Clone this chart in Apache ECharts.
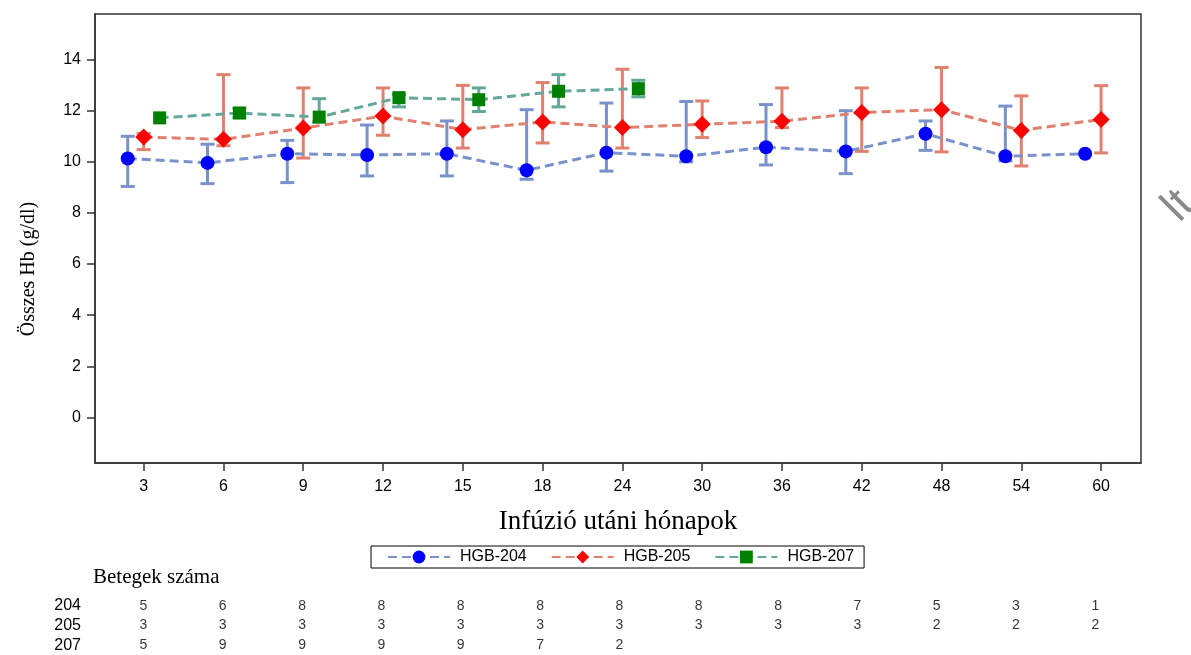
<!DOCTYPE html>
<html>
<head>
<meta charset="utf-8">
<title>Összes Hb</title>
<script src="https://cdn.jsdelivr.net/npm/echarts@6/dist/echarts.min.js"></script>
<style>
  html, body { margin: 0; padding: 0; background: #fff; }
  #chart { width: 1191px; height: 655px; }
</style>
</head>
<body>
<div id="chart"></div>
<script>
const months = ['3', '6', '9', '12', '15', '18', '24', '30', '36', '42', '48', '54', '60']
const yTicks = [0, 2, 4, 6, 8, 10, 12, 14]
const monthTicks = [0, 1, 2, 3, 4, 5, 6, 7, 8, 9, 10, 11, 12]

// atlag es hibasav (also / felso)
const hgb204Mean = [10.12, 9.95, 10.31, 10.26, 10.31, 9.66, 10.35, 10.21, 10.56, 10.40, 11.09, 10.21, 10.31]
const hgb204Low = [9.03, 9.14, 9.18, 9.44, 9.44, 9.31, 9.63, 9.99, 9.87, 9.53, 10.44, 10.03, null]
const hgb204High = [10.99, 10.68, 10.83, 11.43, 11.59, 12.03, 12.29, 12.35, 12.23, 11.99, 11.59, 12.17, null]

const hgb205Mean = [10.96, 10.87, 11.31, 11.78, 11.25, 11.55, 11.33, 11.46, 11.58, 11.92, 12.03, 11.22, 11.65]
const hgb205Low = [10.47, 10.62, 10.14, 11.03, 10.53, 10.73, 10.53, 10.94, 11.33, 10.40, 10.38, 9.83, 10.34]
const hgb205High = [11.10, 13.40, 12.88, 12.88, 12.98, 13.09, 13.61, 12.37, 12.88, 12.88, 13.68, 12.57, 12.97]

const hgb207Mean = [11.71, 11.90, 11.74, 12.50, 12.42, 12.75, 12.85]
const hgb207Low = [null, 11.72, 11.55, 12.14, 11.96, 12.14, 12.53]
const hgb207High = [null, 12.08, 12.46, 12.62, 12.88, 13.40, 13.18]

// Betegek szama
const patientRows = ['204', '205', '207']
const patients204 = [5, 6, 8, 8, 8, 8, 8, 8, 8, 7, 5, 3, 1]
const patients205 = [3, 3, 3, 3, 3, 3, 3, 3, 3, 3, 2, 2, 2]
const patients207 = [5, 9, 9, 9, 9, 7, 2]

const SANS = '"Liberation Sans", Arial, sans-serif'
const SERIF = '"Liberation Serif", "Times New Roman", serif'
const FRAME = '#333'

function points (mean, offset) {
  return mean.map((v, i) => [i + offset, v])
}

function bars (low, high, offset) {
  const out = []
  low.forEach((lo, i) => {
    if (lo != null && high[i] != null) out.push([i + offset, lo, high[i]])
  })
  return out
}

function errorBar (color) {
  return function (params, api) {
    const x = api.value(0)
    const lo = api.coord([x, api.value(1)])
    const hi = api.coord([x, api.value(2)])
    const w = 7
    const style = { stroke: color, lineWidth: 3 }
    return {
      type: 'group',
      children: [
        { type: 'line', shape: { x1: lo[0], y1: lo[1], x2: hi[0], y2: hi[1] }, style: style },
        { type: 'line', shape: { x1: lo[0] - w, y1: lo[1], x2: lo[0] + w, y2: lo[1] }, style: style },
        { type: 'line', shape: { x1: hi[0] - w, y1: hi[1], x2: hi[0] + w, y2: hi[1] }, style: style }
      ]
    }
  }
}

function countCells (counts, row) {
  return counts.map((n, i) => [i, row, n])
}

const groups = [
  { name: 'HGB-204', mean: hgb204Mean, low: hgb204Low, high: hgb204High, offset: -0.2, symbol: 'circle', size: 14, fill: '#0000ff', line: '#7a92cc' },
  { name: 'HGB-205', mean: hgb205Mean, low: hgb205Low, high: hgb205High, offset: 0, symbol: 'diamond', size: 17, fill: '#ff0000', line: '#e0806f' },
  { name: 'HGB-207', mean: hgb207Mean, low: hgb207Low, high: hgb207High, offset: 0.2, symbol: 'rect', size: 13, fill: '#008000', line: '#64a89c' }
]

const series = []
groups.forEach(g => {
  series.push({
    type: 'custom',
    name: g.name + ' err',
    xAxisIndex: 0,
    yAxisIndex: 0,
    renderItem: errorBar(g.line),
    encode: { x: 0, y: [1, 2] },
    data: bars(g.low, g.high, g.offset),
    silent: true,
    z: 2
  })
})
groups.forEach(g => {
  series.push({
    type: 'line',
    name: g.name,
    xAxisIndex: 0,
    yAxisIndex: 0,
    data: points(g.mean, g.offset),
    symbol: g.symbol,
    symbolSize: g.size,
    showAllSymbol: true,
    itemStyle: { color: g.fill },
    lineStyle: { color: g.line, width: 3, type: [9, 5] },
    emphasis: { disabled: true },
    z: 3
  })
})
const tableRows = [patients204, patients205, patients207]
tableRows.forEach((counts, r) => {
  series.push({
    type: 'scatter',
    xAxisIndex: 1,
    yAxisIndex: 1,
    data: countCells(counts, patientRows[r]),
    symbolSize: 8,
    itemStyle: { color: 'transparent' },
    label: {
      show: true,
      position: 'inside',
      formatter: p => String(p.value[2]),
      fontSize: 14,
      fontFamily: SANS,
      color: '#000'
    },
    silent: true
  })
})

const chart = echarts.init(document.getElementById('chart'))
chart.setOption({
  animation: false,
  backgroundColor: '#fff',
  grid: [
    { left: 95, right: 50, top: 14, bottom: 192, show: true, borderColor: FRAME, borderWidth: 1.5, backgroundColor: '#fff' },
    { left: 95, right: 56, top: 596, height: 63 }
  ],
  legend: {
    data: groups.map(g => g.name),
    left: 371,
    top: 546,
    itemWidth: 62,
    itemHeight: 16,
    itemGap: 24,
    padding: [3, 10, 3, 16],
    borderColor: '#000',
    borderWidth: 1,
    selectedMode: false,
    textStyle: { fontSize: 16, fontFamily: SANS, color: '#000', padding: [0, 0, 0, 5] }
  },
  xAxis: [
    {
      type: 'value',
      gridIndex: 0,
      min: -0.61,
      max: 12.5,
      axisLine: { show: true, onZero: false, lineStyle: { color: FRAME, width: 1.5 } },
      axisTick: { show: true, customValues: monthTicks, length: 8, lineStyle: { color: FRAME, width: 1.5 } },
      axisLabel: {
        customValues: monthTicks,
        formatter: v => months[v],
        fontSize: 16,
        fontFamily: SANS,
        color: '#000',
        margin: 16
      },
      splitLine: { show: false },
      name: 'Infúzió utáni hónapok',
      nameLocation: 'middle',
      nameGap: 45,
      nameTextStyle: { fontSize: 27, fontFamily: SERIF, color: '#000' }
    },
    { type: 'value', gridIndex: 1, min: -0.61, max: 12.5, show: false }
  ],
  yAxis: [
    {
      type: 'value',
      gridIndex: 0,
      min: -1.78,
      max: 15.77,
      axisLine: { show: true, onZero: false, lineStyle: { color: FRAME, width: 1.5 } },
      axisTick: { show: true, customValues: yTicks, length: 8, lineStyle: { color: FRAME, width: 1.5 } },
      axisLabel: { customValues: yTicks, fontSize: 16, fontFamily: SANS, color: '#000', margin: 14 },
      splitLine: { show: false }
    },
    {
      type: 'category',
      gridIndex: 1,
      data: patientRows,
      inverse: true,
      axisLine: { show: false },
      axisTick: { show: false },
      axisLabel: { interval: 0, fontSize: 16, fontFamily: SANS, color: '#000', margin: 14 },
      splitLine: { show: false }
    }
  ],
  graphic: [
    {
      type: 'text',
      x: 29,
      y: 269,
      rotation: Math.PI / 2,
      style: { text: 'Összes Hb (g/dl)', font: '20px ' + SERIF, fill: '#000', textAlign: 'center', textVerticalAlign: 'middle' }
    },
    {
      type: 'text',
      x: 93,
      y: 577,
      style: { text: 'Betegek száma', font: '21px ' + SERIF, fill: '#000', textAlign: 'left', textVerticalAlign: 'middle' }
    },
    {
      // levagott vizjel a jobb szelen
      type: 'text',
      x: 1154,
      y: 198,
      rotation: 45 * Math.PI / 180,
      style: { text: 'lt', font: '46px ' + SANS, fill: '#8a8a8a', textAlign: 'left', textVerticalAlign: 'alphabetic' }
    }
  ],
  series: series
})
</script>
</body>
</html>
